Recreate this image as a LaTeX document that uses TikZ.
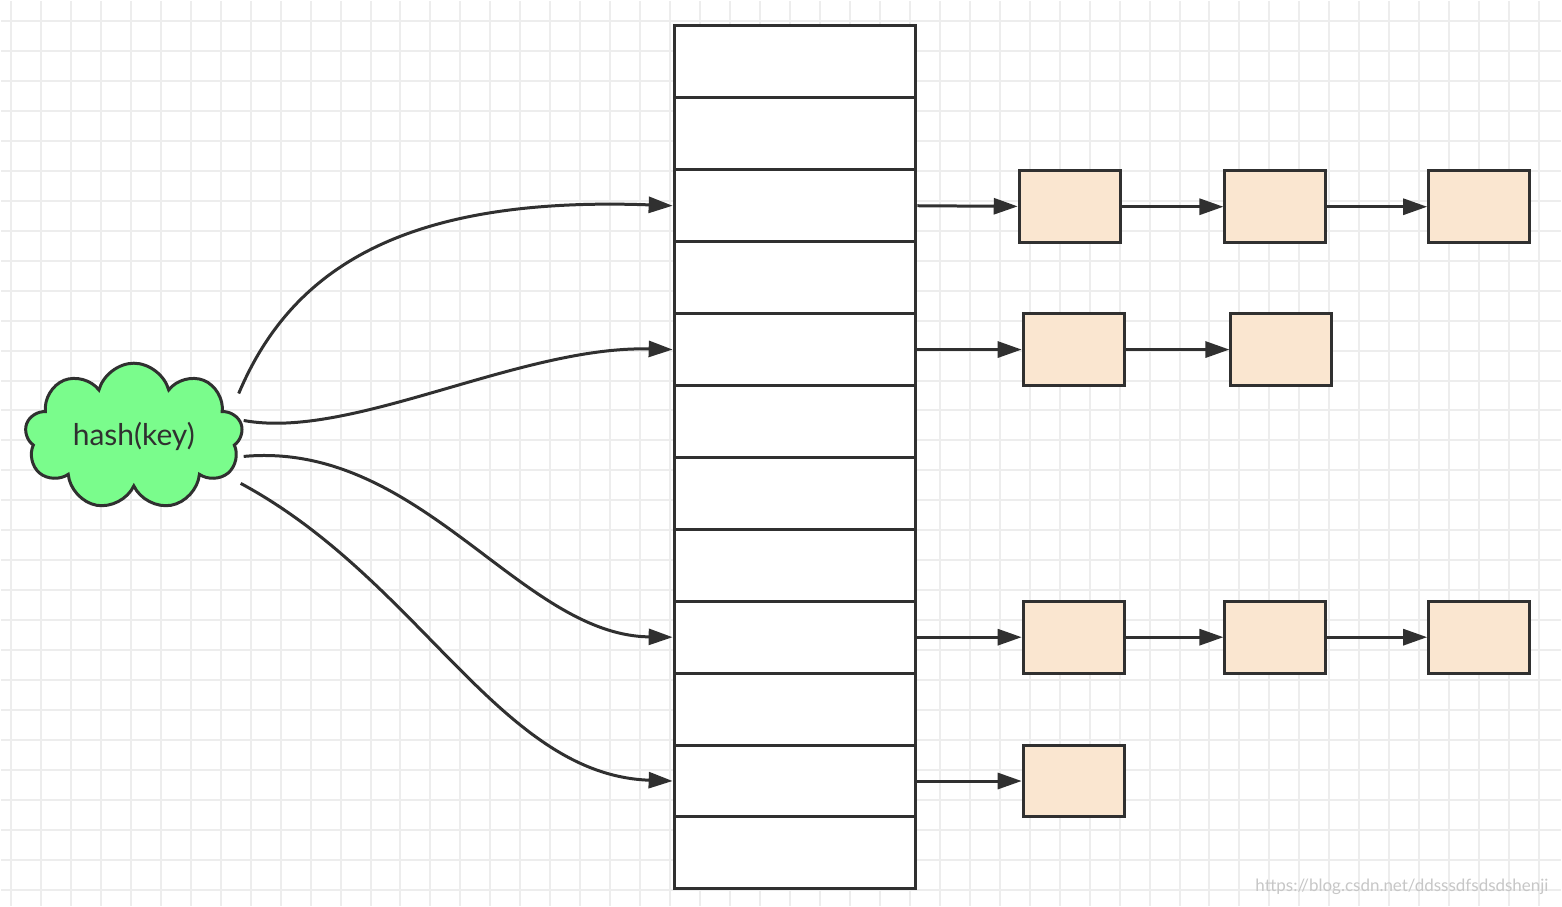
\documentclass[tikz,border=0pt]{standalone}
\usepackage{fontspec}
\setsansfont{Lato}
\usetikzlibrary{shapes.symbols,arrows.meta}
\definecolor{cloudgreen}{RGB}{122,252,140}
\definecolor{nodefill}{RGB}{250,230,208}
\definecolor{inkgray}{RGB}{48,48,48}
\begin{document}
\begin{tikzpicture}[x=1pt,y=-1pt,
  cell/.style={draw=inkgray,line width=3pt,fill=white,minimum width=242pt,minimum height=72pt,inner sep=0pt},
  item/.style={draw=inkgray,line width=3pt,fill=nodefill,minimum width=101pt,minimum height=72pt,inner sep=0pt},
  link/.style={draw=inkgray,line width=3pt,-{Triangle[length=24pt,width=16pt]}},
  curve/.style={draw=inkgray,line width=3pt,-{Triangle[length=24pt,width=16pt]}}]
% background grid
\fill[white] (0,0) rectangle (1562,906);
\foreach \gx in {10,40,...,1562} \draw[black!7,line width=2pt] (\gx,0) -- (\gx,906);
\foreach \gy in {20,50,...,906} \draw[black!7,line width=2pt] (0,\gy) -- (1562,\gy);
\useasboundingbox (0,0) rectangle (1562,906);

% table
\foreach \i in {0,...,11}
  \node[cell] (c\i) at (795,{61+72*\i}) {};

% hash cloud
\node[cloud,cloud puffs=9,aspect=1.6,draw=inkgray,line width=3pt,fill=cloudgreen,
  minimum width=218pt,minimum height=146pt,inner sep=0pt,font=\sffamily\fontsize{30}{36}\selectfont,text=inkgray]
  (hash) at (133,436) {hash(key)};
\coordinate (h1) at (238,393);
\coordinate (h2) at (243,420);
\coordinate (h3) at (243,456);
\coordinate (h4) at (240,483);

\draw[curve] (h1) .. controls (290,270) and (400,195) .. (c2.west);
\draw[curve] (h2) .. controls (350,440) and (520,345) .. (c4.west);
\draw[curve] (h3) .. controls (420,440) and (520,635) .. (c8.west);
\draw[curve] (h4) .. controls (420,580) and (500,775) .. (c10.west);

% chains
\node[item] (a1) at (1070,206) {};
\node[item] (a2) at (1276,206) {};
\node[item] (a3) at (1480,206) {};
\node[item] (b1) at (1074,349) {};
\node[item] (b2) at (1282,349) {};
\node[item] (d1) at (1074,637) {};
\node[item] (d2) at (1276,637) {};
\node[item] (d3) at (1480,637) {};
\node[item] (e1) at (1074,781) {};

\draw[link] (c2.east) -- (a1);
\draw[link] (a1) -- (a2);
\draw[link] (a2) -- (a3);
\draw[link] (c4.east) -- (b1);
\draw[link] (b1) -- (b2);
\draw[link] (c8.east) -- (d1);
\draw[link] (d1) -- (d2);
\draw[link] (d2) -- (d3);
\draw[link] (c10.east) -- (e1);

\node[anchor=east,text=black!22,font=\sffamily\fontsize{17}{20}\selectfont] (mark) at (1553,887) {https://blog.csdn.net/ddsssdfsdsdshenji};
\end{tikzpicture}
\end{document}
